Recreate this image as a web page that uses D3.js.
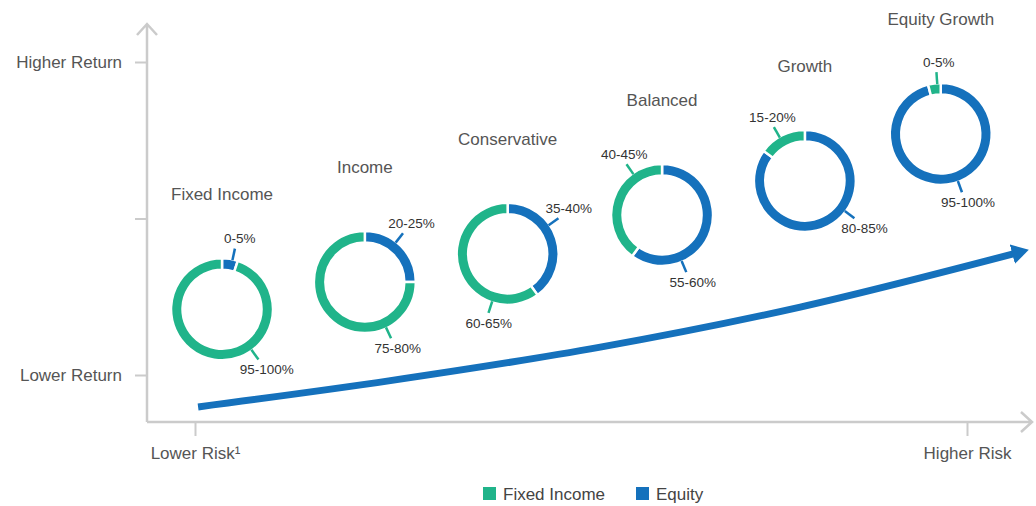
<!DOCTYPE html>
<html>
<head>
<meta charset="utf-8">
<script src="https://cdn.jsdelivr.net/npm/d3@7"></script>
<style>
	body { margin: 0; background: #fff; }
	text { font-family: "Liberation Sans", Arial, sans-serif; }
</style>
</head>
<body>
<div id="chart"></div>
<script>
// portfolios, left (lower risk) to right (higher risk)
var portfolios = ["Fixed Income", "Income", "Conservative", "Balanced", "Growth", "Equity Growth"];
var equityShare = [5, 25, 40, 60, 85, 96];
var fixedShare = [95, 75, 60, 40, 15, 4];
var equityLabels = ["0-5%", "20-25%", "35-40%", "55-60%", "80-85%", "95-100%"];
var fixedLabels = ["95-100%", "75-80%", "60-65%", "40-45%", "15-20%", "0-5%"];

// where each donut sits on the risk / return plane (0 = lower, 1 = higher)
var riskLevel = [0.035, 0.22, 0.405, 0.605, 0.79, 0.966];
var returnLevel = [0.21, 0.297, 0.387, 0.511, 0.62, 0.77];

// trend arrow
var trendRisk = [0.004, 0.253, 0.525, 0.784, 1.06];
var trendReturn = [-0.102, -0.018, 0.089, 0.217, 0.387];

var returnTicks = [0, 0.5, 1];
var returnTickLabels = ["Lower Return", "", "Higher Return"];
var riskTicks = [0, 1];
var riskTickLabels = ["Lower Risk\u00b9", "Higher Risk"];
var seriesNames = ["Fixed Income", "Equity"];

// label leader angles in degrees, clockwise from 12 o'clock
var equityLeaderAngle = [12, 38, 55, 157, 127, 160];
var fixedLeaderAngle = [144, 155, 198, 325, 330, 356];

var width = 1036, height = 506;
var colour = { "Equity": "#1571bc", "Fixed Income": "#20b48a" };
var axisColour = "#cbcbcb";
var outerR = 51, innerR = 39.5;

var svg = d3.select("#chart")
	.append("svg")
	.attr("width", width)
	.attr("height", height);

var x = d3.scaleLinear().domain([0, 1]).range([195, 967]);
var y = d3.scaleLinear().domain([0, 1]).range([375, 62]);

var originX = 147, originY = 422;

// axis lines with open arrow heads
var axisG = svg.append("g").attr("class", "axes");
axisG.append("path")
	.attr("d", "M" + originX + "," + originY + "V24M" + (originX - 10) + ",35L" + originX + ",24L" + (originX + 10) + ",35")
	.attr("fill", "none")
	.attr("stroke", axisColour)
	.attr("stroke-width", 2.5);
axisG.append("path")
	.attr("d", "M" + originX + "," + originY + "H1032M1021,412L1032," + originY + "L1021,432")
	.attr("fill", "none")
	.attr("stroke", axisColour)
	.attr("stroke-width", 2.5);

var yAxis = d3.axisLeft(y)
	.tickValues(returnTicks)
	.tickSize(12)
	.tickPadding(13)
	.tickFormat(function(_d, _i) { return returnTickLabels[_i]; });

var yG = svg.append("g")
	.attr("transform", "translate(" + originX + ",0)")
	.call(yAxis);
yG.select(".domain").remove();
yG.selectAll(".tick line").attr("stroke", axisColour).attr("stroke-width", 2);
yG.selectAll(".tick text")
	.style("font-size", "17px")
	.style("fill", "#555")
	.style("font-family", "'Liberation Sans', Arial, sans-serif");

var xAxis = d3.axisBottom(x)
	.tickValues(riskTicks)
	.tickSize(14)
	.tickPadding(11)
	.tickFormat(function(_d, _i) { return riskTickLabels[_i]; });

var xG = svg.append("g")
	.attr("transform", "translate(0," + originY + ")")
	.call(xAxis);
xG.select(".domain").remove();
xG.selectAll(".tick line").attr("stroke", axisColour).attr("stroke-width", 2);
xG.selectAll(".tick text")
	.style("font-size", "17px")
	.style("fill", "#555")
	.style("font-family", "'Liberation Sans', Arial, sans-serif");

// trend arrow
svg.append("defs").append("marker")
	.attr("id", "trendHead")
	.attr("markerUnits", "userSpaceOnUse")
	.attr("viewBox", "0 -11 17 22")
	.attr("refX", 1)
	.attr("refY", 0)
	.attr("markerWidth", 17)
	.attr("markerHeight", 22)
	.attr("orient", "auto")
	.append("path")
	.attr("d", "M0,-10L17,0L0,10Z")
	.attr("fill", colour["Equity"]);

var trendLine = d3.line()
	.x(function(_d) { return x(_d[0]); })
	.y(function(_d) { return y(_d[1]); })
	.curve(d3.curveCatmullRom);

svg.append("path")
	.datum(d3.zip(trendRisk, trendReturn))
	.attr("d", trendLine)
	.attr("fill", "none")
	.attr("stroke", colour["Equity"])
	.attr("stroke-width", 7)
	.attr("marker-end", "url(#trendHead)");

// donuts
var pie = d3.pie().sort(null).value(function(_d) { return _d.value; });
var arc = d3.arc().innerRadius(innerR).outerRadius(outerR);

var donutData = portfolios.map(function(_name, _i) {
	return {
		name: _name,
		cx: x(riskLevel[_i]),
		cy: y(returnLevel[_i]),
		slices: [
			{ key: "Equity", value: equityShare[_i], label: equityLabels[_i], angle: equityLeaderAngle[_i] },
			{ key: "Fixed Income", value: fixedShare[_i], label: fixedLabels[_i], angle: fixedLeaderAngle[_i] }
		]
	};
});

var donut = svg.selectAll(".donut")
	.data(donutData)
	.enter().append("g")
	.attr("class", "donut")
	.attr("transform", function(_d) { return "translate(" + _d.cx + "," + _d.cy + ")"; });

donut.append("text")
	.attr("class", "donut_title")
	.attr("text-anchor", "middle")
	.attr("y", -115)
	.attr("dy", "0.35em")
	.style("font-size", "17px")
	.style("fill", "#555")
	.text(function(_d) { return _d.name; });

donut.selectAll(".slice")
	.data(function(_d) { return pie(_d.slices); })
	.enter().append("path")
	.attr("class", "slice")
	.attr("d", arc)
	.attr("fill", function(_d) { return colour[_d.data.key]; })
	.attr("stroke", "#fff")
	.attr("stroke-width", 2.5);

var leaderPoint = function(_deg, _r) {
	var a = _deg * Math.PI / 180;
	return [Math.sin(a) * _r, -Math.cos(a) * _r];
};

var leader = donut.selectAll(".leader")
	.data(function(_d) { return _d.slices; })
	.enter().append("g")
	.attr("class", "leader");

leader.append("line")
	.attr("x1", function(_d) { return leaderPoint(_d.angle, outerR - 1)[0]; })
	.attr("y1", function(_d) { return leaderPoint(_d.angle, outerR - 1)[1]; })
	.attr("x2", function(_d) { return leaderPoint(_d.angle, outerR + 11)[0]; })
	.attr("y2", function(_d) { return leaderPoint(_d.angle, outerR + 11)[1]; })
	.attr("stroke", function(_d) { return colour[_d.key]; })
	.attr("stroke-width", 2.5);

leader.append("text")
	.attr("text-anchor", "middle")
	.attr("dy", "0.35em")
	.attr("x", function(_d) {
		var a = _d.angle * Math.PI / 180;
		return leaderPoint(_d.angle, outerR + 11)[0] + 3 + Math.sin(a) * 9;
	})
	.attr("y", function(_d) {
		var a = _d.angle * Math.PI / 180;
		return leaderPoint(_d.angle, outerR + 11)[1] + (Math.cos(a) > 0 ? -10 : 10);
	})
	.style("font-size", "13.5px")
	.style("fill", "#333")
	.text(function(_d) { return _d.label; });

// legend
var legendX = d3.scalePoint().domain(seriesNames).range([483, 636]);

var legend = svg.selectAll(".legendGroup")
	.data(seriesNames)
	.enter().append("g")
	.attr("class", "legendGroup")
	.attr("transform", function(_d) { return "translate(" + legendX(_d) + ",494)"; });

legend.append("rect")
	.attr("x", 0)
	.attr("y", -7)
	.attr("width", 13)
	.attr("height", 13)
	.style("fill", function(_d) { return colour[_d]; });

legend.append("text")
	.attr("x", 20)
	.attr("dy", "0.35em")
	.style("font-size", "17px")
	.style("fill", "#444")
	.text(function(_d) { return _d; });
</script>
</body>
</html>
